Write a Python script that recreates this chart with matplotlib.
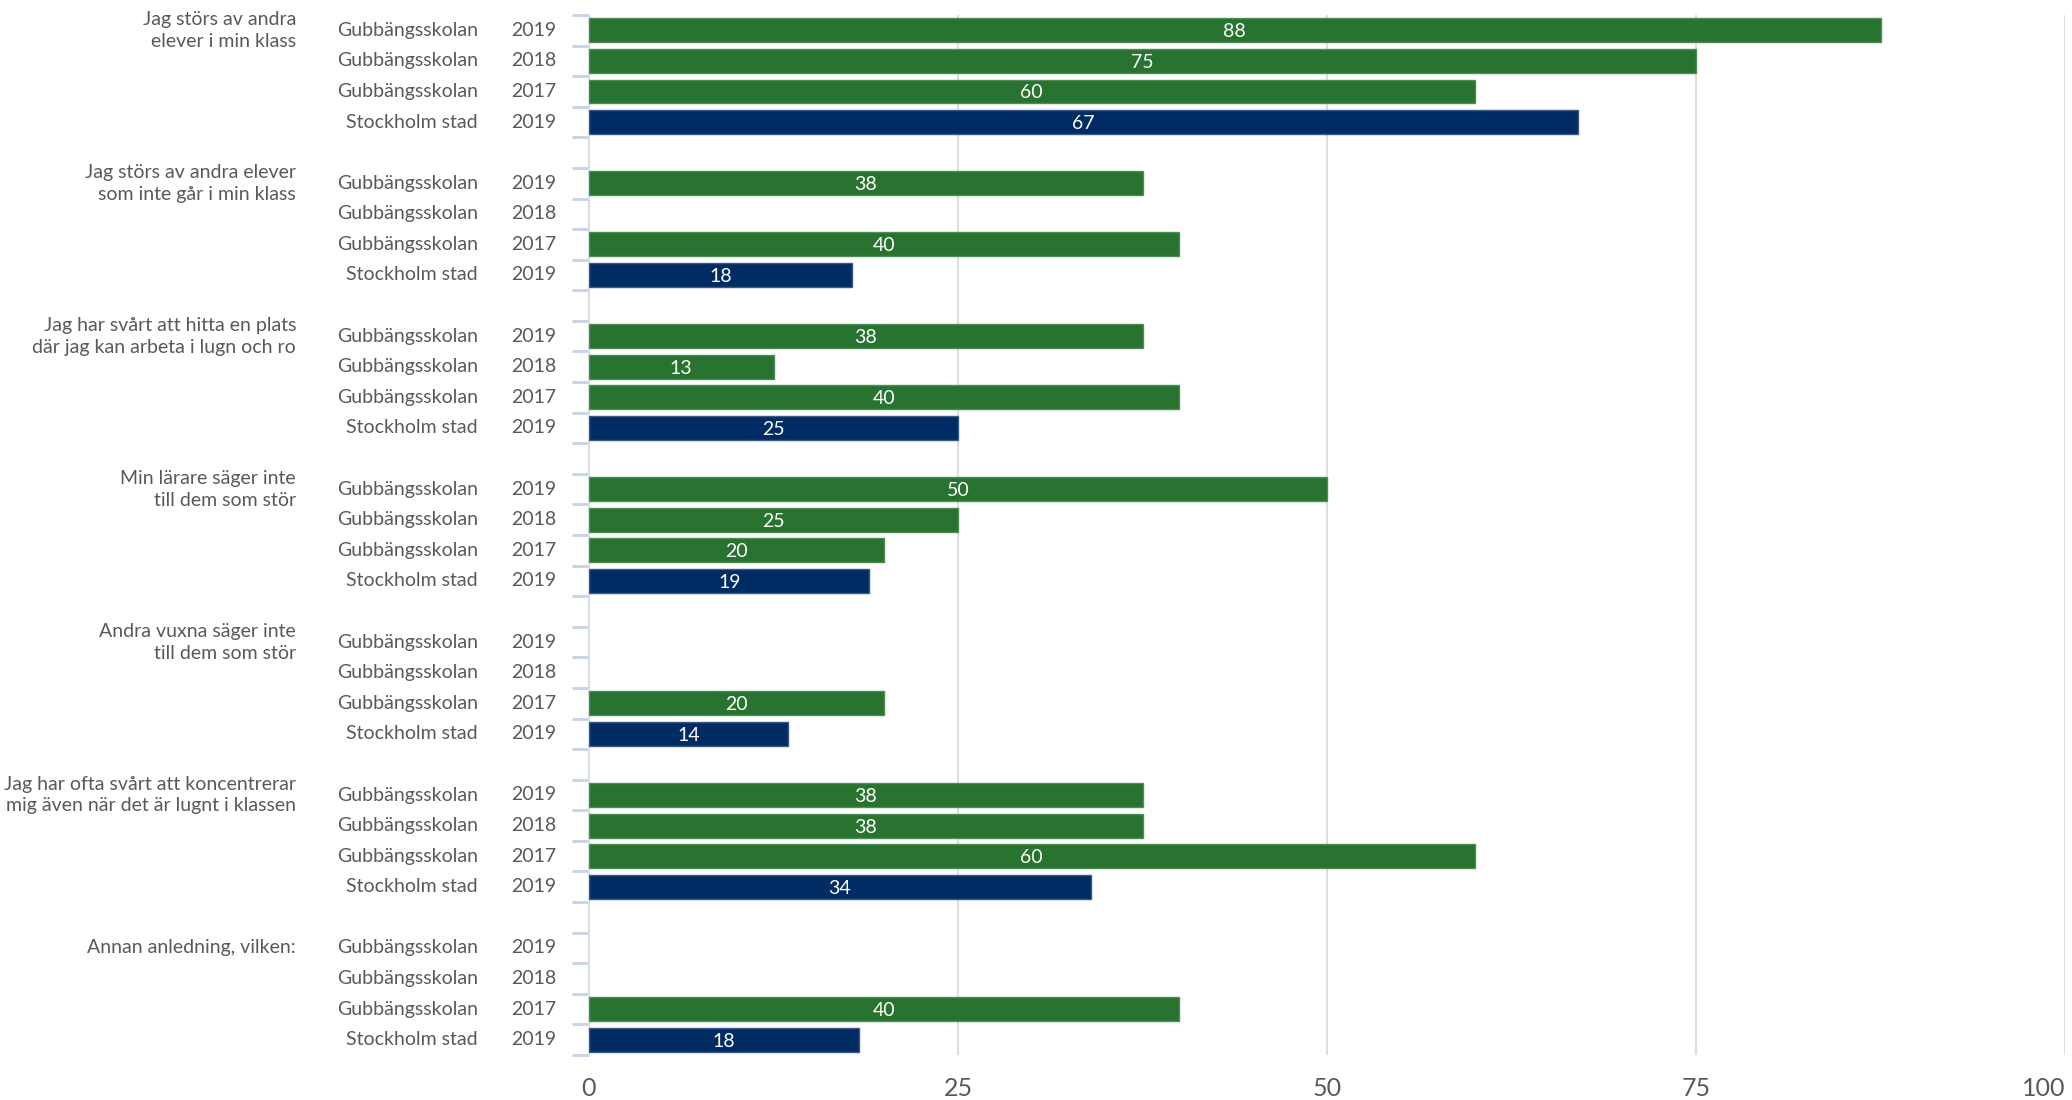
import numpy as np
import matplotlib
matplotlib.use("Agg")
import matplotlib.pyplot as plt
import matplotlib.transforms as mtransforms

plt.rcParams['font.family'] = ['Lato', 'DejaVu Sans']

questions = [
    "Jag störs av andra\nelever i min klass",
    "Jag störs av andra elever\nsom inte går i min klass",
    "Jag har svårt att hitta en plats\ndär jag kan arbeta i lugn och ro",
    "Min lärare säger inte\ntill dem som stör",
    "Andra vuxna säger inte\ntill dem som stör",
    "Jag har ofta svårt att koncentrerar\nmig även när det är lugnt i klassen",
    "Annan anledning, vilken:",
]
units = ["Gubbängsskolan", "Gubbängsskolan", "Gubbängsskolan", "Stockholm stad"]
years = ["2019", "2018", "2017", "2019"]

nan = np.nan
gub_2019 = [87.5, 37.5, 37.5, 50, nan, 37.5, nan]
gub_2018 = [75, nan, 12.5, 25, nan, 37.5, nan]
gub_2017 = [60, 40, 40, 20, 20, 60, 40]
sthlm_2019 = [67, 17.8, 25, 19, 13.5, 34, 18.3]

series = [gub_2019, gub_2018, gub_2017, sthlm_2019]
green = "#27732F"
navy = "#002B63"
colors = [green, green, green, navy]
edges = ["#4f8f56", "#4f8f56", "#4f8f56", "#3b5a86"]

xticks = [0, 25, 50, 75, 100]

W, H = 2072, 1100
fig = plt.figure(figsize=(W / 100, H / 100), dpi=100)
top_px, bot_px = 15, 1055
ax = fig.add_axes([589 / W, 1 - bot_px / H, (2065 - 589) / W, (bot_px - top_px) / H])

gap = 1.0
step = 4 + gap
boundaries = []
for g, q in enumerate(questions):
    base = g * step
    for i in range(4):
        y = base + i + 0.5
        v = series[i][g]
        if not np.isnan(v):
            ax.barh(y, v, height=0.78, color=colors[i], edgecolor=edges[i], linewidth=1, zorder=3)
            ax.text(v / 2, y + 0.05, str(int(np.floor(v + 0.5))), ha="center", va="center",
                    color="white", fontsize=14, zorder=4)
    boundaries.extend([base + k for k in range(5)])

ax.set_ylim(6 * step + 4, 0)
ax.set_xlim(0, 100)
ax.set_yticks(boundaries)
ax.set_yticklabels([])
ax.tick_params(axis="y", direction="out", length=12, width=2, color="#c9d3e6")
ax.set_xticks(xticks)
ax.set_xticklabels([str(t) for t in xticks])
ax.tick_params(axis="x", length=0, pad=16, labelsize=18, labelcolor="#595959")
lbls = ax.get_xticklabels()
lbls[-1].set_horizontalalignment("right")

for t in xticks[1:]:
    ax.axvline(t, color="#dedede", linewidth=1.5, zorder=1)

for s in ["top", "right", "bottom"]:
    ax.spines[s].set_visible(False)
ax.spines["left"].set_color("#d9dde8")
ax.spines["left"].set_linewidth(1.5)

trans = mtransforms.blended_transform_factory(fig.transFigure, ax.transData)
txtc = "#595959"
for g, q in enumerate(questions):
    base = g * step
    ax.text(296 / W, base + 0.5, q, transform=trans, ha="right", va="center",
            fontsize=14, color=txtc, linespacing=1.35)
    for i in range(4):
        y = base + i + 0.5
        ax.text(478 / W, y, units[i], transform=trans, ha="right", va="center",
                fontsize=14, color=txtc)
        ax.text(556 / W, y, years[i], transform=trans, ha="right", va="center",
                fontsize=14, color=txtc)

fig.savefig("out.png", dpi=100)
